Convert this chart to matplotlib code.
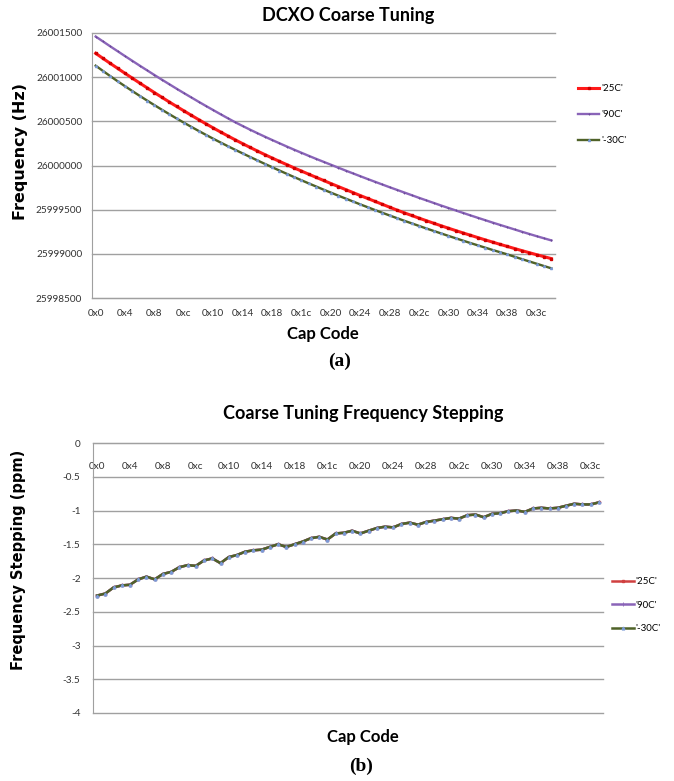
import matplotlib
matplotlib.use("Agg")
import matplotlib.pyplot as plt

# cap codes (category labels shown every 4th code)
tick_pos = [0, 4, 8, 12, 16, 20, 24, 28, 32, 36, 40, 44, 48, 52, 56, 60]
tick_labels = ["0x0", "0x4", "0x8", "0xc", "0x10", "0x14", "0x18", "0x1c",
               "0x20", "0x24", "0x28", "0x2c", "0x30", "0x34", "0x38", "0x3c"]

# (a) frequency in Hz, 63 cap codes
freq_25c = [26001270, 26001212, 26001155, 26001099, 26001043, 26000988, 26000933,
            26000879, 26000825, 26000772, 26000720, 26000669, 26000619, 26000569,
            26000520, 26000472, 26000425, 26000379, 26000334, 26000290, 26000247,
            26000205, 26000164, 26000124, 26000085, 26000047, 26000010, 25999973,
            25999937, 25999901, 25999866, 25999831, 25999796, 25999762, 25999728,
            25999694, 25999660, 25999627, 25999594, 25999561, 25999528, 25999495,
            25999464, 25999434, 25999404, 25999375, 25999346, 25999318, 25999290,
            25999263, 25999236, 25999210, 25999184, 25999158, 25999133, 25999108,
            25999084, 25999060, 25999036, 25999013, 25998990, 25998968, 25998946]
freq_90c = [26001460, 26001404, 26001348, 26001293, 26001238, 26001184, 26001130,
            26001077, 26001024, 26000972, 26000921, 26000870, 26000820, 26000771,
            26000722, 26000674, 26000627, 26000580, 26000534, 26000489, 26000447,
            26000406, 26000366, 26000327, 26000289, 26000252, 26000215, 26000179,
            26000144, 26000109, 26000075, 26000042, 26000009, 25999976, 25999943,
            25999911, 25999879, 25999847, 25999816, 25999785, 25999754, 25999724,
            25999694, 25999664, 25999634, 25999605, 25999576, 25999547, 25999519,
            25999491, 25999463, 25999435, 25999408, 25999381, 25999354, 25999328,
            25999302, 25999276, 25999250, 25999225, 25999200, 25999176, 25999152]
freq_m30c = [26001130, 26001070, 26001011, 26000953, 26000897, 26000842, 26000788,
             26000735, 26000683, 26000632, 26000582, 26000533, 26000485, 26000438,
             26000392, 26000347, 26000303, 26000260, 26000218, 26000177, 26000137,
             26000097, 26000058, 26000019, 25999981, 25999943, 25999906, 25999869,
             25999833, 25999797, 25999762, 25999727, 25999693, 25999659, 25999626,
             25999593, 25999560, 25999528, 25999496, 25999465, 25999434, 25999404,
             25999374, 25999345, 25999316, 25999287, 25999259, 25999231, 25999203,
             25999176, 25999149, 25999122, 25999096, 25999070, 25999044, 25999019,
             25998994, 25998967, 25998940, 25998914, 25998888, 25998862, 25998836]

# (b) stepping in ppm, 62 steps (the three temperatures overlap)
step_25c = [-2.26, -2.23, -2.14, -2.11, -2.10, -2.02, -1.98, -2.02, -1.94, -1.91,
            -1.84, -1.81, -1.82, -1.74, -1.71, -1.78, -1.69, -1.66, -1.61, -1.59,
            -1.58, -1.54, -1.50, -1.54, -1.50, -1.46, -1.41, -1.39, -1.43, -1.34,
            -1.33, -1.30, -1.34, -1.30, -1.26, -1.24, -1.25, -1.20, -1.18, -1.21,
            -1.17, -1.15, -1.13, -1.11, -1.12, -1.07, -1.06, -1.10, -1.05, -1.04,
            -1.01, -1.00, -1.02, -0.97, -0.96, -0.97, -0.96, -0.93, -0.90, -0.91,
            -0.91, -0.88]
step_90c = step_25c
step_m30c = step_25c

freq_yticks = [25998500, 25999000, 25999500, 26000000, 26000500, 26001000, 26001500]
step_yticks = [0, -0.5, -1, -1.5, -2, -2.5, -3, -3.5, -4]
step_ylabels = ["0", "-0.5", "-1", "-1.5", "-2", "-2.5", "-3", "-3.5", "-4"]

RED = "#ff1a1a"
PURPLE = "#8a64b8"
GREEN = "#4f6228"
BLUE = "#7a9ad6"
GRID = "#a0a0a0"
TICKFONT = dict(family="Lato", size=7.2, color="#333333")

fig = plt.figure(figsize=(6.74, 7.81), dpi=100)


def style_axes(ax):
    ax.grid(axis="y", color=GRID, lw=1.0)
    for gl in ax.get_ygridlines():
        gl.set_clip_on(False)
    ax.spines["top"].set_visible(False)
    ax.spines["right"].set_visible(False)
    ax.spines["left"].set_color(GRID)
    ax.spines["bottom"].set_color(GRID)
    ax.tick_params(length=0)
    ax.set_axisbelow(True)


# ---------- (a) ----------
ax1 = fig.add_axes([92 / 674, 1 - 298 / 781, 463 / 674, 265 / 781])
x1 = range(len(freq_25c))
ax1.plot(x1, freq_25c, color=RED, lw=2.2, marker="s", ms=1.6, mfc="#d00000",
         mec="#d00000", label="'25C'")
ax1.plot(x1, freq_90c, color=PURPLE, lw=1.7, marker="+", ms=2.0, mew=0.6,
         mec="#6a4a98", label="'90C'")
ax1.plot(x1, freq_m30c, color=GREEN, lw=1.7, marker="^", ms=1.5,
         mfc=BLUE, mec=BLUE, label="'-30C'")
ax1.set_xlim(-0.5, 62.5)
ax1.set_ylim(25998500, 26001500)
ax1.set_yticks(freq_yticks)
ax1.set_yticklabels([str(v) for v in freq_yticks], **TICKFONT)
ax1.set_xticks(tick_pos)
ax1.set_xticklabels(tick_labels, **TICKFONT)
ax1.tick_params(axis="x", pad=8)
ax1.tick_params(axis="y", pad=7)
style_axes(ax1)

fig.legend(*ax1.get_legend_handles_labels(), loc="upper left",
           bbox_to_anchor=(578 / 674, 1 - 84 / 781), frameon=False,
           prop=dict(family="Lato", size=7), handlelength=2.2,
           handletextpad=0.2, labelspacing=1.75, borderpad=0, borderaxespad=0)

fig.text(348 / 674, 1 - 15 / 781, "DCXO Coarse Tuning", ha="center", va="center",
         family="Lato", weight="bold", size=13)
fig.text(21 / 674, 1 - 152 / 781, "Frequency (Hz)", ha="center", va="center",
         rotation=90, family="DejaVu Sans", weight="bold", size=11.5)
fig.text(323 / 674, 1 - 334 / 781, "Cap Code", ha="center", va="center",
         family="Lato", weight="bold", size=12)
fig.text(340 / 674, 1 - 361 / 781, "(a)", ha="center", va="center",
         family="Liberation Serif", weight="bold", size=14)

# ---------- (b) ----------
ax2 = fig.add_axes([93 / 674, 1 - 713 / 781, 510 / 674, 270 / 781])
x2 = range(len(step_25c))
ax2.plot(x2, step_25c, color="#d04040", lw=1.8, marker="s", ms=1.8, label="'25C'")
ax2.plot(x2, step_90c, color=PURPLE, lw=1.8, marker="+", ms=2.2, mew=0.6,
         label="'90C'")
ax2.plot(x2, step_m30c, color=GREEN, lw=1.8, marker="^", ms=2.0,
         mfc=BLUE, mec=BLUE, label="'-30C'")
ax2.set_xlim(-0.5, 61.5)
ax2.set_ylim(-4, 0)
ax2.spines["bottom"].set_position(("data", 0))
ax2.set_yticks(step_yticks)
ax2.set_yticklabels(step_ylabels, **TICKFONT)
ax2.set_xticks(tick_pos)
ax2.set_xticklabels(tick_labels, **TICKFONT)
ax2.tick_params(axis="x", pad=14)
ax2.tick_params(axis="y", pad=9)
style_axes(ax2)

fig.legend(*ax2.get_legend_handles_labels(), loc="upper left",
           bbox_to_anchor=(612 / 674, 1 - 577 / 781), frameon=False,
           prop=dict(family="Lato", size=7), handlelength=2.3,
           handletextpad=0.1, labelspacing=1.5, borderpad=0, borderaxespad=0)

fig.text(363 / 674, 1 - 413 / 781, "Coarse Tuning Frequency Stepping", ha="center",
         va="center", family="Lato", weight="bold", size=13)
fig.text(19 / 674, 1 - 560 / 781, "Frequency Stepping (ppm)", ha="center",
         va="center", rotation=90, family="DejaVu Sans", weight="bold", size=10.5)
fig.text(363 / 674, 1 - 737 / 781, "Cap Code", ha="center", va="center",
         family="Lato", weight="bold", size=12)
fig.text(361 / 674, 1 - 766 / 781, "(b)", ha="center", va="center",
         family="Liberation Serif", weight="bold", size=14)

fig.savefig("out.png", dpi=100)
